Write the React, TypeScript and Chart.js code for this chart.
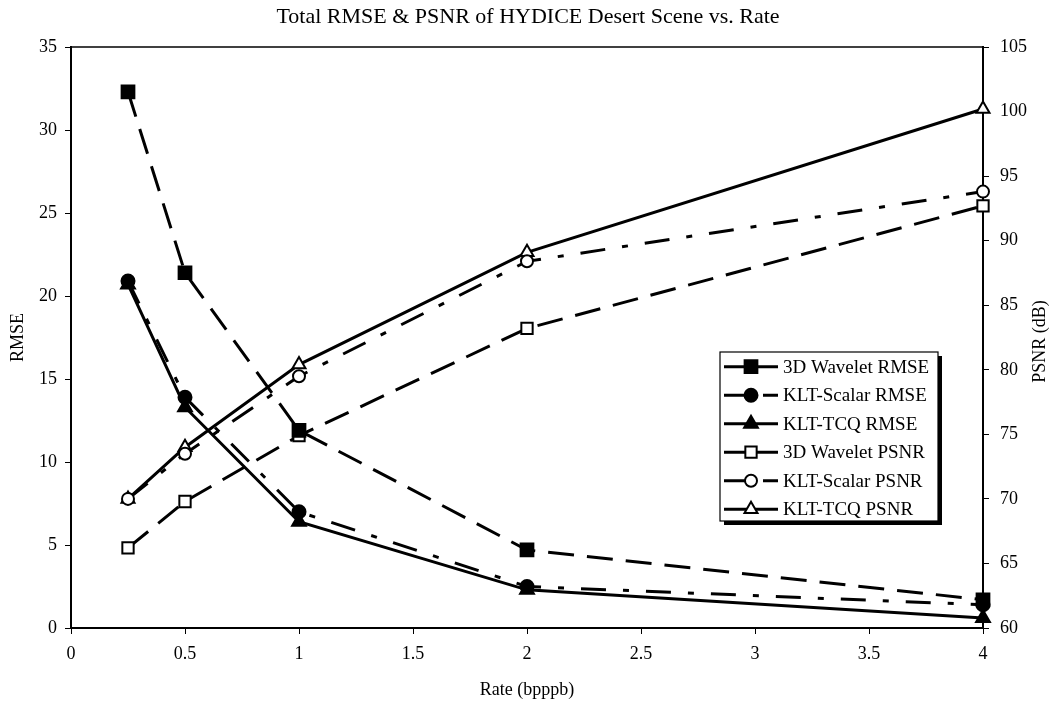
import React, { useEffect, useRef } from 'react';
import { Chart, registerables } from 'chart.js';

Chart.register(...registerables);

const rates = [0.25, 0.5, 1, 2, 4];
const waveletRmse = [32.3, 21.4, 11.9, 4.7, 1.7];
const scalarRmse = [20.9, 13.9, 7.0, 2.5, 1.4];
const tcqRmse = [20.7, 13.3, 6.4, 2.3, 0.6];
const waveletPsnr = [66.2, 69.8, 74.9, 83.2, 92.7];
const scalarPsnr = [70.0, 73.5, 79.5, 88.4, 93.8];
const tcqPsnr = [70.0, 74.0, 80.4, 89.1, 100.2];

const seriesLabels = [
  '3D Wavelet RMSE',
  'KLT-Scalar RMSE',
  'KLT-TCQ RMSE',
  '3D Wavelet PSNR',
  'KLT-Scalar PSNR',
  'KLT-TCQ PSNR',
];

const titleText = 'Total RMSE & PSNR of HYDICE Desert Scene vs. Rate';
const xTitle = 'Rate (bpppb)';
const leftTitle = 'RMSE';
const rightTitle = 'PSNR (dB)';

const FONT = "'Liberation Serif', 'Times New Roman', serif";
const DASH = [26, 13];
const DASHDOT = [25, 17, 6, 17];

type Style = {
  dash: number[];
  point: 'rect' | 'circle' | 'triangle';
  radius: number;
  filled: boolean;
  axis: 'y' | 'y1';
};

const styles: Style[] = [
  { dash: DASH, point: 'rect', radius: 9, filled: true, axis: 'y' },
  { dash: DASHDOT, point: 'circle', radius: 6.5, filled: true, axis: 'y' },
  { dash: [], point: 'triangle', radius: 8, filled: true, axis: 'y' },
  { dash: DASH, point: 'rect', radius: 8, filled: false, axis: 'y1' },
  { dash: DASHDOT, point: 'circle', radius: 6, filled: false, axis: 'y1' },
  { dash: [], point: 'triangle', radius: 7.5, filled: false, axis: 'y1' },
];

const seriesValues = [waveletRmse, scalarRmse, tcqRmse, waveletPsnr, scalarPsnr, tcqPsnr];

function drawMarker(ctx: CanvasRenderingContext2D, s: Style, x: number, y: number) {
  const r = s.radius;
  ctx.save();
  ctx.setLineDash([]);
  ctx.beginPath();
  if (s.point === 'rect') {
    const h = Math.SQRT1_2 * r;
    ctx.rect(x - h, y - h, 2 * h, 2 * h);
  } else if (s.point === 'circle') {
    ctx.arc(x, y, r, 0, Math.PI * 2);
  } else {
    let rad = 0;
    ctx.moveTo(x + Math.sin(rad) * r, y - Math.cos(rad) * r);
    rad += (2 * Math.PI) / 3;
    ctx.lineTo(x + Math.sin(rad) * r, y - Math.cos(rad) * r);
    rad += (2 * Math.PI) / 3;
    ctx.lineTo(x + Math.sin(rad) * r, y - Math.cos(rad) * r);
    ctx.closePath();
  }
  ctx.fillStyle = s.filled ? '#000' : '#fff';
  ctx.fill();
  ctx.lineWidth = 2;
  ctx.strokeStyle = '#000';
  ctx.stroke();
  ctx.restore();
}

const decorPlugin = {
  id: 'decor',
  afterDraw(chart: any) {
    const ctx: CanvasRenderingContext2D = chart.ctx;
    const a = chart.chartArea;
    ctx.save();
    // top frame line
    ctx.strokeStyle = '#000';
    ctx.lineWidth = 1.5;
    ctx.beginPath();
    ctx.moveTo(a.left, a.top);
    ctx.lineTo(a.right, a.top);
    ctx.stroke();

    // right axis title (reads bottom to top)
    ctx.fillStyle = '#000';
    ctx.font = `18px ${FONT}`;
    ctx.textAlign = 'center';
    ctx.textBaseline = 'middle';
    ctx.save();
    ctx.translate(1040, (a.top + a.bottom) / 2 + 4);
    ctx.rotate(-Math.PI / 2);
    ctx.fillText(rightTitle, 0, 0);
    ctx.restore();

    // legend
    const bx = 720, by = 352, bw = 218, bh = 169;
    ctx.fillStyle = '#000';
    ctx.fillRect(bx + 4, by + 4, bw, bh);
    ctx.fillStyle = '#fff';
    ctx.fillRect(bx, by, bw, bh);
    ctx.lineWidth = 1.2;
    ctx.strokeStyle = '#000';
    ctx.strokeRect(bx, by, bw, bh);

    const rowH = 28.5;
    const y0 = by + 14.7;
    ctx.font = `19px ${FONT}`;
    ctx.textAlign = 'left';
    ctx.textBaseline = 'middle';
    seriesLabels.forEach((label, i) => {
      const s = styles[i];
      const y = y0 + i * rowH;
      ctx.save();
      ctx.strokeStyle = '#000';
      ctx.lineWidth = 3;
      ctx.setLineDash(s.dash === DASHDOT ? [22, 7, 3, 7] : []);
      ctx.beginPath();
      ctx.moveTo(724, y);
      ctx.lineTo(778, y);
      ctx.stroke();
      ctx.restore();
      drawMarker(ctx, s, 751, y);
      ctx.fillStyle = '#000';
      ctx.fillText(label, 783, y + 1);
    });
    ctx.restore();
  },
};

export default function App() {
  const ref = useRef<HTMLCanvasElement | null>(null);

  useEffect(() => {
    if (!ref.current) return;
    const datasets = seriesLabels.map((label, i) => {
      const s = styles[i];
      return {
        label,
        data: rates.map((x, j) => ({ x, y: seriesValues[i][j] })),
        yAxisID: s.axis,
        borderColor: '#000',
        backgroundColor: '#000',
        borderWidth: 3,
        borderDash: s.dash,
        pointStyle: s.point,
        pointRadius: s.radius,
        pointHoverRadius: s.radius,
        pointBackgroundColor: s.filled ? '#000' : '#fff',
        pointBorderColor: '#000',
        pointBorderWidth: 2,
        fill: false,
        tension: 0,
        clip: false,
      };
    });

    const tickFont = { family: FONT, size: 18 };
    const fmt = (v: any) => String(Math.round(Number(v) * 100) / 100);
    const chart = new Chart(ref.current, {
      type: 'line',
      data: { datasets: datasets as any },
      plugins: [decorPlugin],
      options: {
        responsive: false,
        animation: false,
        devicePixelRatio: 1,
        layout: { padding: 0 },
        plugins: {
          legend: { display: false },
          tooltip: { enabled: false },
          title: {
            display: true,
            text: titleText,
            color: '#000',
            font: { family: FONT, size: 22, weight: 'normal' },
            padding: { top: 4, bottom: 16.6 },
          },
        },
        scales: {
          x: {
            type: 'linear',
            min: 0,
            max: 4,
            afterFit: (s: any) => { s.height = 74; },
            ticks: { stepSize: 0.5, color: '#000', font: tickFont, padding: 9, maxRotation: 0, callback: fmt },
            grid: { drawOnChartArea: false, drawTicks: true, tickLength: 6, color: '#000', lineWidth: 1 },
            border: { display: true, color: '#000', width: 2 },
            title: { display: true, text: xTitle, color: '#000', font: tickFont, padding: { top: 0, bottom: 1 } },
          },
          y: {
            type: 'linear',
            position: 'left',
            min: 0,
            max: 35,
            afterFit: (s: any) => { s.width = 71; },
            ticks: { stepSize: 5, color: '#000', font: tickFont, padding: 8, callback: fmt },
            grid: { drawOnChartArea: false, drawTicks: true, tickLength: 6, color: '#000', lineWidth: 1 },
            border: { display: true, color: '#000', width: 2 },
            title: { display: true, text: leftTitle, color: '#000', font: tickFont, padding: { top: 7, bottom: 0 } },
          },
          y1: {
            type: 'linear',
            position: 'right',
            min: 60,
            max: 105,
            afterFit: (s: any) => { s.width = 73; },
            ticks: { stepSize: 5, color: '#000', font: tickFont, padding: 11, callback: fmt },
            grid: { drawOnChartArea: false, drawTicks: true, tickLength: 6, color: '#000', lineWidth: 1 },
            border: { display: true, color: '#000', width: 2 },
            title: { display: false },
          },
        },
      } as any,
    });
    return () => chart.destroy();
  }, []);

  return (
    <div style={{ position: 'fixed', left: 0, top: 0, width: 1056, height: 702, background: '#fff' }}>
      <canvas ref={ref} width={1056} height={702} style={{ display: 'block' }} />
    </div>
  );
}
